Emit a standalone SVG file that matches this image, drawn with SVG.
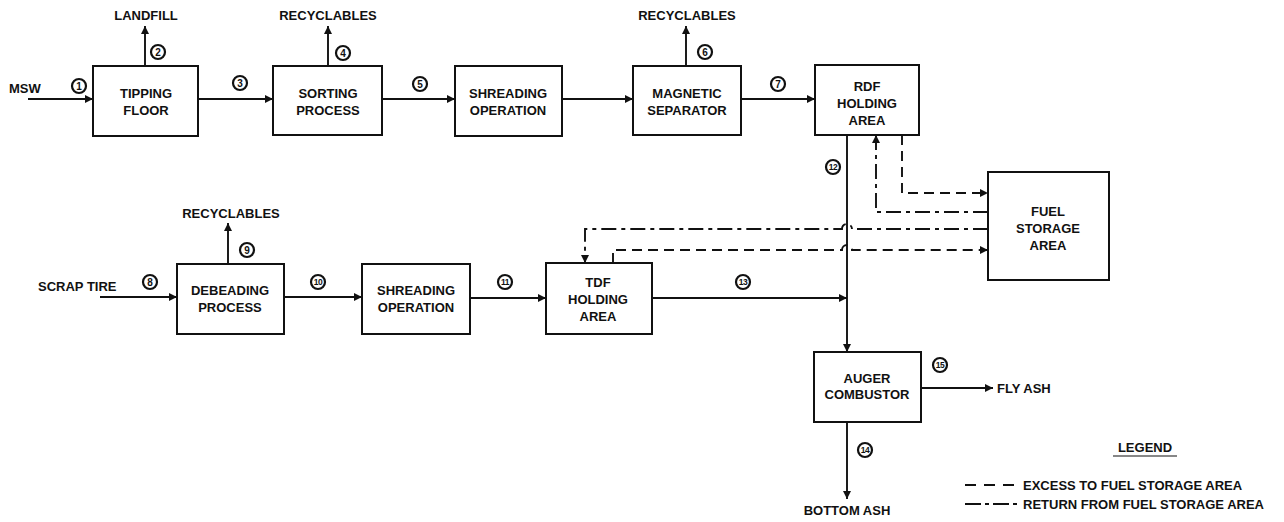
<svg xmlns="http://www.w3.org/2000/svg" width="1284" height="522" viewBox="0 0 1284 522">
<style>
text{font-family:"Liberation Sans",Arial,sans-serif;font-weight:bold;font-size:13px;fill:#111}
.t{text-anchor:middle}
.box{fill:#fff;stroke:#111;stroke-width:2}
.ln{fill:none;stroke:#111;stroke-width:1.9}
.ar{marker-end:url(#ah)}
.dash{stroke-dasharray:10 6}
.dd{stroke-dasharray:15 5 4 5}
.num circle{fill:#fff;stroke:#111;stroke-width:2.2}
.num text{font-size:10px;text-anchor:middle}
.num .n2{font-size:8.5px;letter-spacing:-0.5px}
</style>
<defs>
<marker id="ah" viewBox="0 0 10 10" refX="10" refY="5" markerWidth="11" markerHeight="8" orient="auto" markerUnits="userSpaceOnUse"><path d="M0,0 L10,5 L0,10 z" fill="#111"/></marker>
</defs>
<rect width="1284" height="522" fill="#fff"/>
<g id="connectors">
<path class="ln ar" d="M28 99 H93"/>
<path class="ln ar" d="M145 66 V26"/>
<path class="ln ar" d="M198 99 H273"/>
<path class="ln ar" d="M328 66 V26"/>
<path class="ln ar" d="M382 99 H455"/>
<path class="ln ar" d="M562 99 H633"/>
<path class="ln ar" d="M686 66 V26"/>
<path class="ln ar" d="M741 99 H815"/>
<path class="ln ar" d="M847 135 V352"/>
<path class="ln ar" d="M100 297 H177"/>
<path class="ln ar" d="M228 264 V223"/>
<path class="ln ar" d="M284 297 H362"/>
<path class="ln ar" d="M470 298 H546"/>
<path class="ln ar" d="M652 298 H847"/>
<path class="ln ar" d="M921 388 H993"/>
<path class="ln ar" d="M847 422 V499"/>
<path class="ln ar dash" d="M902 135 V193 H988"/>
<path class="ln ar dd" d="M988 212 H876 V135"/>
<path class="ln ar dd" d="M988 229 H852 A5 5 0 0 0 842 229 H585 V263"/>
<path class="ln ar dash" d="M613 263 V250 H842 A5 5 0 0 1 852 250 H988"/>
</g>
<g id="tipping"><rect class="box" x="93" y="66" width="105" height="70"/><text class="t" x="146" y="98">TIPPING</text><text class="t" x="146" y="115">FLOOR</text></g>
<g id="sorting"><rect class="box" x="273" y="66" width="109" height="69"/><text class="t" x="328" y="98">SORTING</text><text class="t" x="328" y="115">PROCESS</text></g>
<g id="shread1"><rect class="box" x="455" y="66" width="107" height="70"/><text class="t" x="508" y="98">SHREADING</text><text class="t" x="508" y="115">OPERATION</text></g>
<g id="magnetic"><rect class="box" x="633" y="66" width="108" height="69"/><text class="t" x="687" y="98">MAGNETIC</text><text class="t" x="687" y="115">SEPARATOR</text></g>
<g id="rdf"><rect class="box" x="815" y="65" width="104" height="70"/><text class="t" x="867" y="91">RDF</text><text class="t" x="867" y="108">HOLDING</text><text class="t" x="867" y="125">AREA</text></g>
<g id="fuel"><rect class="box" x="988" y="172" width="121" height="108"/><text class="t" x="1048" y="216">FUEL</text><text class="t" x="1048" y="233">STORAGE</text><text class="t" x="1048" y="250">AREA</text></g>
<g id="debeading"><rect class="box" x="177" y="264" width="107" height="70"/><text class="t" x="230" y="295">DEBEADING</text><text class="t" x="230" y="312">PROCESS</text></g>
<g id="shread2"><rect class="box" x="362" y="264" width="108" height="70"/><text class="t" x="416" y="295">SHREADING</text><text class="t" x="416" y="312">OPERATION</text></g>
<g id="tdf"><rect class="box" x="546" y="263" width="106" height="71"/><text class="t" x="598" y="287">TDF</text><text class="t" x="598" y="304">HOLDING</text><text class="t" x="598" y="321">AREA</text></g>
<g id="auger"><rect class="box" x="814" y="352" width="107" height="70"/><text class="t" x="867" y="383">AUGER</text><text class="t" x="867" y="399">COMBUSTOR</text></g>
<g id="labels">
<text x="9" y="93">MSW</text>
<text class="t" x="146" y="20">LANDFILL</text>
<text class="t" x="328" y="20">RECYCLABLES</text>
<text class="t" x="687" y="20">RECYCLABLES</text>
<text class="t" x="231" y="218">RECYCLABLES</text>
<text x="38" y="291">SCRAP TIRE</text>
<text x="997" y="393">FLY ASH</text>
<text class="t" x="847" y="515">BOTTOM ASH</text>
</g>
<g id="numbers" class="num">
<g><circle cx="79" cy="86" r="7"/><text x="79" y="89.5">1</text></g>
<g><circle cx="158" cy="52" r="7"/><text x="158" y="55.5">2</text></g>
<g><circle cx="240" cy="83" r="7"/><text x="240" y="86.5">3</text></g>
<g><circle cx="343" cy="53" r="7"/><text x="343" y="56.5">4</text></g>
<g><circle cx="420" cy="84" r="7"/><text x="420" y="87.5">5</text></g>
<g><circle cx="705" cy="52" r="7"/><text x="705" y="55.5">6</text></g>
<g><circle cx="778" cy="84" r="7"/><text x="778" y="87.5">7</text></g>
<g><circle cx="150" cy="282" r="7"/><text x="150" y="285.5">8</text></g>
<g><circle cx="247" cy="250" r="7"/><text x="247" y="253.5">9</text></g>
<g><circle cx="318" cy="282" r="7"/><text class="n2" x="318" y="285">10</text></g>
<g><circle cx="505" cy="282" r="7"/><text class="n2" x="505" y="285">11</text></g>
<g><circle cx="833" cy="167" r="7"/><text class="n2" x="833" y="170">12</text></g>
<g><circle cx="743" cy="282" r="7"/><text class="n2" x="743" y="285">13</text></g>
<g><circle cx="865" cy="450" r="7"/><text class="n2" x="865" y="453">14</text></g>
<g><circle cx="940" cy="365" r="7"/><text class="n2" x="940" y="368">15</text></g>
</g>
<g id="legend">
<text class="t" x="1145" y="452">LEGEND</text>
<line class="ln" x1="1113" y1="456" x2="1177" y2="456" style="stroke-width:1.2"/>
<line class="ln" x1="965" y1="485" x2="1017" y2="485" style="stroke-dasharray:11 8"/>
<text x="1023" y="490">EXCESS TO FUEL STORAGE AREA</text>
<line class="ln" x1="965" y1="504" x2="1017" y2="504" style="stroke-dasharray:16 4 4 4"/>
<text x="1023" y="509">RETURN FROM FUEL STORAGE AREA</text>
</g>
</svg>
